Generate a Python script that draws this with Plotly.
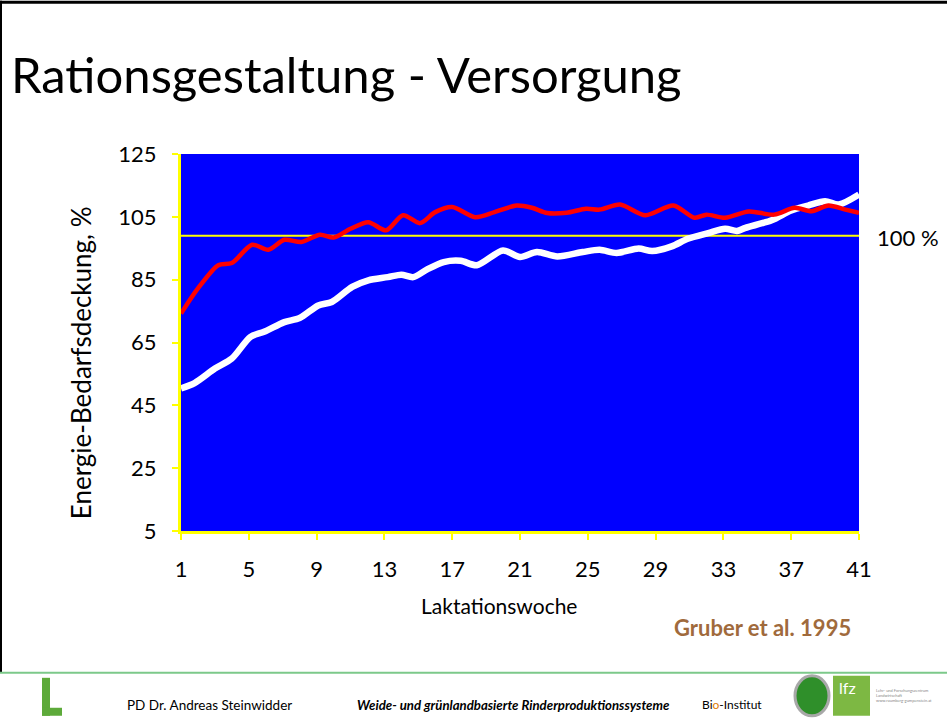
import plotly.graph_objects as go

# Laktationswoche / Energie-Bedarfsdeckung (%)
weeks_red = [1, 2, 3.2, 4.0, 5.2, 6.15, 7.1, 8.1, 9.2, 10.0, 11, 12.05, 13.1, 14.1,
             15.1, 16, 17.0, 18.35, 19.5, 20.8, 21.7, 22.6, 23.75, 24.9, 25.7, 26.9,
             28.4, 30.05, 31.3, 32.0, 33.1, 34.5, 36.0, 37.2, 38.2, 39.2, 40.2, 41.0]
cover_red = [74.2, 82.2, 89.6, 90.3, 96.1, 94.5, 97.7, 97.0, 99.3, 98.4, 101.2, 103.3,
             100.7, 105.5, 103.0, 106.5, 108.1, 104.9, 106.5, 108.6, 107.9, 106.2,
             106.3, 107.6, 107.3, 108.9, 105.5, 108.6, 104.7, 105.7, 104.7, 106.7,
             105.7, 107.9, 106.8, 108.6, 107.3, 106.3]

weeks_white = [1, 1.8, 3.0, 4.0, 5.1, 5.9, 7.1, 8.0, 9.1, 9.9, 11.1, 12.05, 13.2, 14.0,
               14.7, 15.5, 16.5, 17.5, 18.45, 20.0, 21.0, 22.0, 23.2, 24.7, 25.7, 26.7,
               28.0, 28.8, 29.95, 30.9, 32.1, 33.1, 33.8, 34.3, 35.85, 37.0, 38.0, 39.0,
               39.8, 41.0]
cover_white = [50.4, 52.1, 56.7, 59.9, 66.8, 68.4, 71.5, 72.8, 76.8, 77.9, 82.7, 84.8,
               85.8, 86.6, 85.8, 88.2, 90.6, 91.0, 89.6, 94.3, 92.2, 93.8, 92.4, 93.8,
               94.5, 93.5, 94.9, 94.1, 95.6, 98.0, 99.8, 101.2, 100.5, 101.5, 103.9,
               107.0, 108.6, 110.0, 108.9, 112.1]

ref_level = 99  # drawn "100 %" line
x_ticks = list(range(1, 42, 4))
y_ticks = list(range(5, 126, 20))

W, H = 947, 719
L, R, T, B = 181, 859, 153.5, 531


def px(x):
    return (x - L) / (R - L)


def py(y):
    return (B - y) / (B - T)


fig = go.Figure()

fig.add_trace(go.Scatter(x=weeks_white, y=cover_white, mode="lines",
                         line=dict(color="white", width=6.5, shape="spline", smoothing=0.8),
                         hoverinfo="skip"))
fig.add_trace(go.Scatter(x=weeks_red, y=cover_red, mode="lines",
                         line=dict(color="#FF0000", width=4.5, shape="spline", smoothing=0.8),
                         hoverinfo="skip"))

fig.add_shape(type="line", xref="x", yref="y", x0=1, x1=41, y0=ref_level, y1=ref_level,
              line=dict(color="#FFFF00", width=2), layer="below")

font = "Lato, 'Open Sans', sans-serif"

fig.update_layout(
    width=W, height=H,
    margin=dict(l=L, r=W - R, t=T, b=H - B),
    paper_bgcolor="white",
    plot_bgcolor="#0000FF",
    showlegend=False,
    font=dict(family=font, color="black"),
    xaxis=dict(range=[1, 41], tickvals=x_ticks, showgrid=False, zeroline=False,
               showline=True, linecolor="#FFFF00", linewidth=3,
               ticks="outside", tickcolor="#FFFF00", ticklen=6, tickwidth=2,
               tickfont=dict(size=22), ticklabelstandoff=11),
    yaxis=dict(range=[5, 125], tickvals=y_ticks, showgrid=False, zeroline=False,
               showline=True, linecolor="#FFFF00", linewidth=3,
               ticks="outside", tickcolor="#FFFF00", ticklen=6, tickwidth=2,
               tickfont=dict(size=22), ticklabelstandoff=11),
)

# axis titles
fig.add_annotation(text="Laktationswoche", xref="paper", yref="paper", x=px(499), y=py(606),
                   xanchor="center", yanchor="middle", showarrow=False, font=dict(size=21))
fig.add_annotation(text="Energie-Bedarfsdeckung, %", xref="paper", yref="paper",
                   x=px(81), y=py(363), xanchor="center", yanchor="middle", showarrow=False,
                   textangle=-90, font=dict(size=26))

# slide title
fig.add_annotation(text="Rationsgestaltung - Versorgung", xref="paper", yref="paper",
                   x=px(9), y=py(73), xanchor="left", yanchor="middle", showarrow=False,
                   font=dict(size=49, family=font))
fig.add_annotation(text="100 %", xref="paper", yref="paper", x=px(875), y=py(237),
                   xanchor="left", yanchor="middle", showarrow=False, font=dict(size=22))
fig.add_annotation(text="<b>Gruber et al. 1995</b>", xref="paper", yref="paper",
                   x=px(762), y=py(628), xanchor="center", yanchor="middle", showarrow=False,
                   font=dict(size=22, color="#A06A3C"))

# slide frame and footer
fig.add_shape(type="line", xref="paper", yref="paper", x0=px(0), x1=px(W), y0=py(1.5), y1=py(1.5),
              line=dict(color="black", width=3))
fig.add_shape(type="line", xref="paper", yref="paper", x0=px(1), x1=px(1), y0=py(0), y1=py(673),
              line=dict(color="black", width=2))
fig.add_shape(type="line", xref="paper", yref="paper", x0=px(0), x1=px(W), y0=py(673), y1=py(673),
              line=dict(color="#7CC98A", width=2))

# left logo (green L)
fig.add_shape(type="rect", xref="paper", yref="paper", x0=px(42), x1=px(50), y0=py(678), y1=py(716),
              fillcolor="#5DAA3A", line_width=0)
fig.add_shape(type="rect", xref="paper", yref="paper", x0=px(42), x1=px(62), y0=py(708), y1=py(716),
              fillcolor="#5DAA3A", line_width=0)

fig.add_annotation(text="PD Dr. Andreas Steinwidder", xref="paper", yref="paper",
                   x=px(125), y=py(705), xanchor="left", yanchor="middle", showarrow=False,
                   font=dict(size=13.5))
fig.add_annotation(text="<b><i>Weide- und grünlandbasierte Rinderproduktionssysteme</i></b>",
                   xref="paper", yref="paper", x=px(355), y=py(705), xanchor="left",
                   yanchor="middle", showarrow=False, font=dict(size=13.2))
fig.add_annotation(text="Bi<span style='color:#E07B00'>o</span>-Institut", xref="paper",
                   yref="paper", x=px(700), y=py(705), xanchor="left", yanchor="middle",
                   showarrow=False, font=dict(size=12))

# right logos
fig.add_shape(type="circle", xref="paper", yref="paper", x0=px(795), x1=px(829), y0=py(676), y1=py(716),
              fillcolor="#2F8F2A", line=dict(color="#A8A8A8", width=3))
fig.add_shape(type="rect", xref="paper", yref="paper", x0=px(833), x1=px(870), y0=py(676), y1=py(716),
              fillcolor="#7DB843", line_width=0)
fig.add_annotation(text="lfz", xref="paper", yref="paper", x=px(837), y=py(688),
                   xanchor="left", yanchor="middle", showarrow=False,
                   font=dict(size=16, color="white"))
fig.add_annotation(text="Lehr- und Forschungszentrum<br>Landwirtschaft<br>www.raumberg-gumpenstein.at",
                   xref="paper", yref="paper", x=px(874), y=py(696), xanchor="left",
                   yanchor="middle", showarrow=False, align="left",
                   font=dict(size=4, color="#888888"))

# the page body has a default 8px margin; drop it so the slide sits at the window corner
fig.write_html("out.html", config={"displayModeBar": False},
               post_script="document.body.style.margin='0px';")
